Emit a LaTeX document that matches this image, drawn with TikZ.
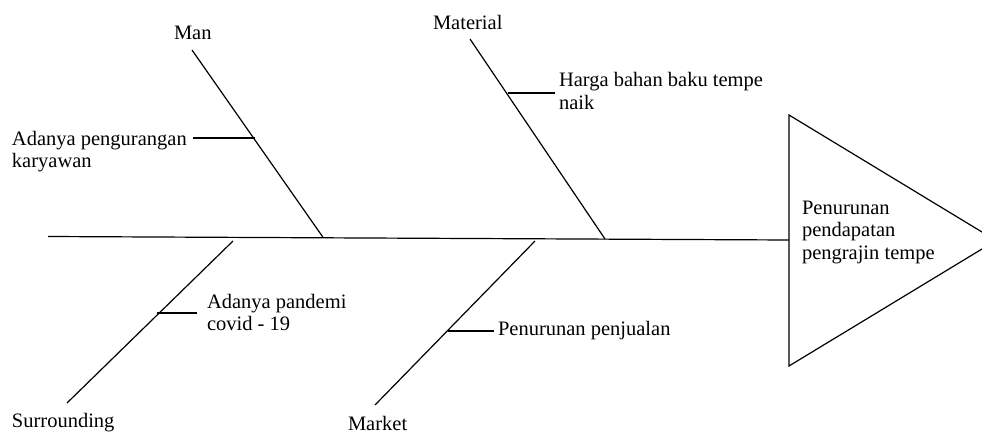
\documentclass[tikz,border=0pt]{standalone}
\usepackage{fontspec}
\setmainfont{Liberation Serif}
\begin{document}
\begin{tikzpicture}[x=1pt,y=-1pt,
  bone/.style={line width=1.2pt,black},
  lbl/.style={anchor=base west,inner sep=0pt,outer sep=0pt,font=\fontsize{20.5}{22.5}\selectfont},
]
\useasboundingbox (0,0) rectangle (982,433);
% spine and head
\coordinate (tail) at (48,236.5);
\coordinate (head) at (789,240);
\coordinate (t1) at (789,115);
\coordinate (t2) at (789,366);
\coordinate (t3) at (996,240.5);
\begin{scope}
\clip (0,0) rectangle (982,433);
\draw[bone,line join=miter] (t1) -- (t3) -- (t2) -- cycle;
\end{scope}
\draw[bone] (tail) -- (head);
% Man bone
\coordinate (manTop) at (192,50);
\coordinate (manBot) at (323,237.3);
\draw[bone] (manTop) -- (manBot);
\coordinate (manS1) at (193,138);
\coordinate (manS2) at (255,138);
\draw[bone] (manS1) -- (manS2);
% Material bone
\coordinate (matTop) at (470,39);
\coordinate (matBot) at (605,239);
\draw[bone] (matTop) -- (matBot);
\coordinate (matS1) at (508,93);
\coordinate (matS2) at (555,93);
\draw[bone] (matS1) -- (matS2);
% Surrounding bone
\coordinate (surTop) at (233,241);
\coordinate (surBot) at (67,403);
\draw[bone] (surTop) -- (surBot);
\coordinate (surS1) at (157,313);
\coordinate (surS2) at (197,313);
\draw[bone] (surS1) -- (surS2);
% Market bone
\coordinate (marTop) at (535,241);
\coordinate (marBot) at (375,405);
\draw[bone] (marTop) -- (marBot);
\coordinate (marS1) at (448,331);
\coordinate (marS2) at (494,331);
\draw[bone] (marS1) -- (marS2);
% labels
\node[lbl] (man) at (174,40) {Man};
\node[lbl] (material) at (433,30) {Material};
\node[lbl] (surrounding) at (12,427) {Surrounding};
\node[lbl] (market) at (348,430) {Market};
\node[lbl] (c1) at (12,145.5) {\begin{tabular}[t]{@{}l@{}}Adanya pengurangan\\karyawan\end{tabular}};
\node[lbl] (c2) at (559,87) {\begin{tabular}[t]{@{}l@{}}Harga bahan baku tempe\\naik\end{tabular}};
\node[lbl] (c3) at (207,308) {\begin{tabular}[t]{@{}l@{}}Adanya pandemi\\covid - 19\end{tabular}};
\node[lbl] (c4) at (498,335) {Penurunan penjualan};
\node[lbl] (effect) at (802,214) {\begin{tabular}[t]{@{}l@{}}Penurunan\\pendapatan\\pengrajin tempe\end{tabular}};
\end{tikzpicture}
\end{document}
